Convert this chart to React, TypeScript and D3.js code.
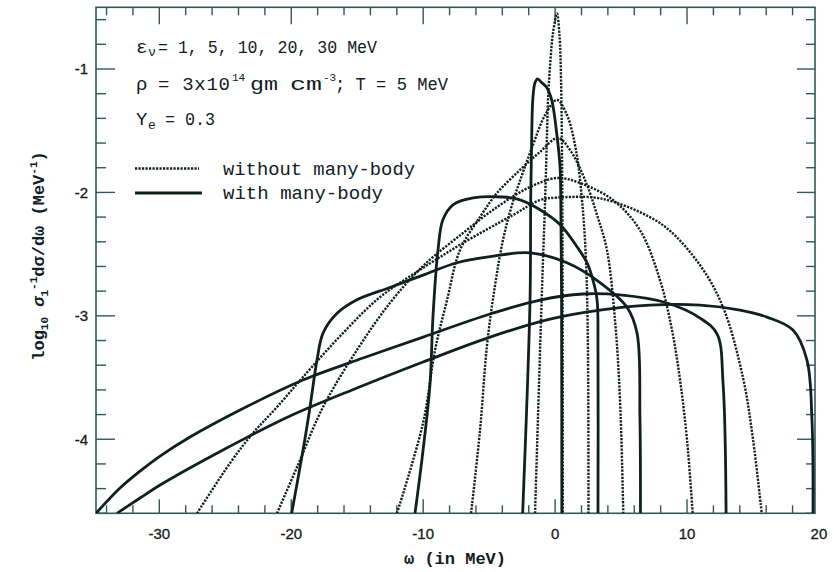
import * as d3 from "d3";
import React from "react";

type Pt = [number, number];

// [omega (MeV), log10 of sigma^-1 dsigma/domega]
// solid curves: with many-body effects
const withMB1: Pt[] = [[-2.46, -4.6], [-1.9, -2.87], [-1.85, -2.06], [-1.77, -1.52], [-1.68, -1.23], [-1.52, -1.11], [-1.32, -1.08], [-1.02, -1.11], [-0.64, -1.15], [-0.26, -1.25], [0.12, -1.52], [0.37, -1.79], [0.45, -2.33], [0.49, -2.87], [0.51, -4.6]];
const withMB5: Pt[] = [[-10.62, -4.6], [-10.01, -4.09], [-9.48, -3.55], [-9.26, -3.01], [-8.88, -2.47], [-8.5, -2.22], [-7.74, -2.1], [-6.22, -2.045], [-3.95, -2.037], [-2.66, -2.06], [-1.14, -2.14], [0.37, -2.26], [1.66, -2.44], [2.42, -2.57], [2.87, -2.71], [3.18, -2.87], [3.25, -3.28], [3.25, -4.6]];
const withMB10: Pt[] = [[-19.97, -4.6], [-19.11, -4.09], [-18.58, -3.74], [-18.05, -3.36], [-17.59, -3.14], [-16.53, -2.98], [-15.02, -2.87], [-12.52, -2.77], [-10.01, -2.67], [-7.44, -2.57], [-4.93, -2.52], [-1.9, -2.49], [0.9, -2.57], [3.4, -2.73], [5.45, -2.93], [6.21, -3.14], [6.43, -3.82], [6.47, -4.6]];
const withMB20: Pt[] = [[-34.8, -4.6], [-32.98, -4.395], [-31.46, -4.258], [-29.94, -4.136], [-27.67, -3.982], [-23.88, -3.763], [-19.11, -3.52], [-14.56, -3.342], [-10.01, -3.172], [-4.93, -2.985], [-1.14, -2.872], [2.11, -2.823], [4.92, -2.831], [8.48, -2.896], [10.99, -3.018], [12.28, -3.148], [12.73, -3.545], [12.96, -4.6]];
const withMB30: Pt[] = [[-33.21, -4.6], [-31.46, -4.476], [-29.94, -4.371], [-25.17, -4.087], [-20.09, -3.812], [-15.02, -3.585], [-10.01, -3.374], [-4.93, -3.172], [-0.39, -3.026], [3.4, -2.953], [7.19, -2.913], [10.99, -2.913], [14.02, -2.953], [16.06, -3.01], [18.03, -3.115], [19.09, -3.358], [19.47, -3.843], [19.55, -4.6]];

// dotted curves: without many-body effects
const noMB1: Pt[] = [[-1.52, -4.6], [-1.02, -2.872], [-0.76, -2.062], [-0.61, -1.519], [-0.54, -1.251], [-0.39, -0.984], [-0.16, -0.708], [0.14, -0.55], [0.33, -0.724], [0.45, -1.089], [0.52, -1.656], [0.56, -2.467], [0.58, -4.6]];
const noMB5: Pt[] = [[-6.37, -4.6], [-5.69, -3.925], [-5.16, -3.237], [-4.55, -2.751], [-3.95, -2.386], [-3.27, -2.102], [-2.51, -1.859], [-1.68, -1.616], [-0.76, -1.373], [0.14, -1.251], [0.9, -1.373], [1.58, -1.656], [2.04, -2.062], [2.34, -2.548], [2.49, -3.277], [2.53, -4.6]];
const noMB10: Pt[] = [[-11.99, -4.6], [-10.01, -3.869], [-9.1, -3.277], [-8.19, -2.872], [-7.21, -2.467], [-5.69, -2.199], [-4.4, -2.005], [-2.66, -1.818], [-1.14, -1.672], [0.22, -1.559], [1.13, -1.656], [2.27, -1.899], [3.18, -2.183], [3.93, -2.467], [4.54, -3.034], [4.92, -3.682], [5.17, -4.6]];
const noMB20: Pt[] = [[-21.08, -4.6], [-19.56, -4.225], [-17.59, -3.739], [-15.02, -3.277], [-12.52, -2.896], [-10.01, -2.596], [-6.98, -2.329], [-4.4, -2.118], [-1.9, -1.956], [0.14, -1.883], [1.89, -1.924], [4.39, -2.062], [6.43, -2.305], [7.95, -2.71], [8.86, -3.115], [9.47, -3.52], [10.0, -4.006], [10.43, -4.6]];
const noMB30: Pt[] = [[-27.14, -4.6], [-24.64, -4.193], [-22.9, -3.95], [-21.08, -3.739], [-19.11, -3.496], [-16.08, -3.14], [-13.27, -2.848], [-10.01, -2.612], [-6.98, -2.41], [-3.19, -2.183], [-1.14, -2.062], [0.14, -2.042], [2.87, -2.04], [4.39, -2.075], [6.43, -2.16], [8.48, -2.29], [10.99, -2.59], [12.73, -2.93], [14.24, -3.5], [15.0, -4.0], [15.66, -4.6]];

const withManyBody = [withMB1, withMB5, withMB10, withMB20, withMB30];
const withoutManyBody = [noMB1, noMB5, noMB10, noMB20, noMB30];

const xTickLabels = [-30, -20, -10, 0, 10, 20];
const yTickLabels = [-4, -3, -2, -1];

const INK = "#10201f";
const AXIS = "#2f5957";
const MONO = "Liberation Mono, Courier New, monospace";
const SANS = "Liberation Sans, Arial, sans-serif";
const DOTS = "2.2 1.3";

export default function App() {
  const W = 834;
  const H = 572;
  const left = 96, right = 815, top = 7.3, bottom = 513.3;

  const x = d3.scaleLinear().domain([-34.8, 19.7]).range([left, right]);
  const y = d3.scaleLinear().domain([-4.6, -0.5]).range([bottom, top]);

  const line = d3
    .line<Pt>()
    .x(d => x(d[0]))
    .y(d => y(d[1]))
    .curve(d3.curveCatmullRom.alpha(0.5));

  const xTicks = d3.range(-34, 20, 2);
  const yTicks = d3.range(21).map(i => +(-4.6 + 0.2 * i).toFixed(1));

  return (
    <svg width={W} height={H} style={{ position: "absolute", left: 0, top: 0, background: "#fff" }}>
      <defs>
        <clipPath id="plot-area">
          <rect x={left} y={top} width={right - left} height={bottom - top} />
        </clipPath>
      </defs>

      {/* frame */}
      <rect x={left} y={top} width={right - left} height={bottom - top} fill="none" stroke={AXIS} strokeWidth={1.6} />

      {/* x ticks, bottom and top */}
      {xTicks.map(t => {
        const major = t % 10 === 0;
        const px = x(t);
        return (
          <g key={"xt" + t} stroke={AXIS} strokeWidth={1.4}>
            <line x1={px} x2={px} y1={bottom} y2={bottom - (major ? 14 : 8)} />
            <line x1={px} x2={px} y1={top} y2={top + (major ? 17 : 8)} />
          </g>
        );
      })}

      {/* y ticks, left and right */}
      {yTicks.map(t => {
        const major = Number.isInteger(t);
        const py = y(t);
        return (
          <g key={"yt" + t} stroke={AXIS} strokeWidth={1.4}>
            <line x1={left} x2={left + (major ? 19 : 10)} y1={py} y2={py} />
            <line x1={right} x2={right - (major ? 18 : 9)} y1={py} y2={py} />
          </g>
        );
      })}

      {/* tick labels */}
      <g fontFamily={SANS} fontSize={15} fill="#1c1c1c" stroke="#1c1c1c" strokeWidth={0.35}>
        {xTickLabels.map(t => (
          <text key={"xl" + t} x={x(t)} y={538.5} textAnchor="middle">
            {t}
          </text>
        ))}
        {yTickLabels.map(t => (
          <text key={"yl" + t} x={88} y={y(t)} dy="0.36em" textAnchor="end">
            {t}
          </text>
        ))}
      </g>

      {/* axis titles */}
      <text x={455} y={564} textAnchor="middle" fontFamily={MONO} fontWeight="bold" fontSize={17} fill={INK}>
        ω (in MeV)
      </text>
      <text transform="translate(44,256) rotate(-90)" textAnchor="middle" fontFamily={MONO} fontWeight="bold" fontSize={17} fill={INK}>
        log<tspan fontSize={11} dy={4}>10</tspan>
        <tspan dy={-4} fontStyle="italic"> σ</tspan>
        <tspan fontSize={11} dy={4}>1</tspan>
        <tspan fontSize={11} dy={-11}>-1</tspan>
        <tspan dy={7}>dσ/dω (MeV</tspan>
        <tspan fontSize={11} dy={-7}>-1</tspan>
        <tspan dy={7}>)</tspan>
      </text>

      {/* curves */}
      <g clipPath="url(#plot-area)" fill="none" stroke={INK}>
        {withoutManyBody.map((c, i) => (
          <path key={"d" + i} d={line(c) || ""} strokeWidth={2.4} strokeDasharray={DOTS} />
        ))}
        {withManyBody.map((c, i) => (
          <path key={"s" + i} d={line(c) || ""} strokeWidth={2.8} />
        ))}
      </g>

      {/* annotation */}
      <g fontFamily={MONO} fontSize={19} fill={INK}>
        <text x={136} y={52.5}>ε</text>
        <text x={148} y={56} fontSize={13}>ν</text>
        <text x={158} y={52.5} textLength={219} lengthAdjust="spacingAndGlyphs">= 1, 5, 10, 20, 30 MeV</text>

        <text x={136} y={90}>ρ</text>
        <text x={158} y={90} textLength={72} lengthAdjust="spacing">= 3x10</text>
        <text x={232} y={81} fontSize={11}>14</text>
        <text x={250} y={90} textLength={28} lengthAdjust="spacingAndGlyphs">gm</text>
        <text x={290} y={90} textLength={32} lengthAdjust="spacingAndGlyphs">cm</text>
        <text x={323} y={81} fontSize={11}>-3</text>
        <text x={335} y={90} textLength={113} lengthAdjust="spacingAndGlyphs">; T = 5 MeV</text>

        <text x={136} y={125}>Y</text>
        <text x={148} y={129} fontSize={13}>e</text>
        <text x={165} y={125} textLength={50} lengthAdjust="spacingAndGlyphs">= 0.3</text>

        <line x1={135} x2={199} y1={168.5} y2={168.5} stroke={INK} strokeWidth={2.4} strokeDasharray={DOTS} />
        <text x={223} y={175} textLength={192} lengthAdjust="spacingAndGlyphs">without many-body</text>
        <line x1={135} x2={202} y1={193} y2={193} stroke={INK} strokeWidth={2.8} />
        <text x={223} y={199} textLength={160} lengthAdjust="spacingAndGlyphs">with many-body</text>
      </g>
    </svg>
  );
}
